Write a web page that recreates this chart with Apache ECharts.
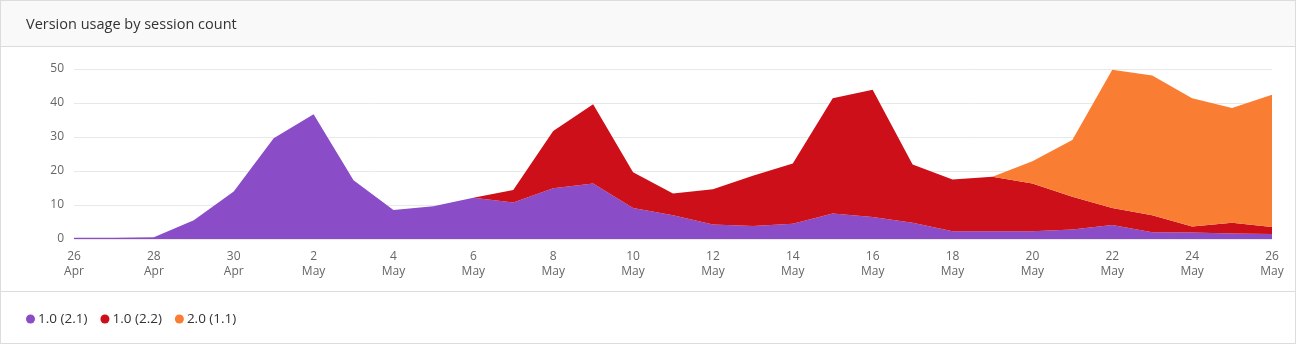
<!DOCTYPE html>
<html>
<head>
<meta charset="utf-8">
<script src="https://cdn.jsdelivr.net/npm/echarts@6/dist/echarts.min.js"></script>
<style>
  html, body { margin: 0; padding: 0; background: #fff; }
  #frame { position: absolute; left: 0; top: 0; width: 1296px; height: 344px; box-sizing: border-box; border: 1px solid #dcdcdc; }
  #head { position: absolute; left: 0; top: 0; width: 1294px; height: 45px; background: #f9f9f9; border-bottom: 1px solid #dcdcdc; }
  #foot { position: absolute; left: 0; top: 290px; width: 1294px; height: 1px; background: #dcdcdc; }
  #chart { position: absolute; left: 0; top: 0; width: 1297px; height: 344px; }
</style>
</head>
<body>
<div id="frame"><div id="head"></div><div id="foot"></div></div>
<div id="chart"></div>
<script>
const title = "Version usage by session count";
const categories = ["26 Apr","27 Apr","28 Apr","29 Apr","30 Apr","1 May","2 May","3 May","4 May","5 May","6 May","7 May","8 May","9 May","10 May","11 May","12 May","13 May","14 May","15 May","16 May","17 May","18 May","19 May","20 May","21 May","22 May","23 May","24 May","25 May","26 May"];
const seriesNames = ["1.0 (2.1)", "1.0 (2.2)", "2.0 (1.1)"];
const seriesColors = ["#8a4cc7", "#cc0f18", "#f97d32"];
const v21 = [0.4, 0.4, 0.5, 5.5, 14.0, 29.6, 36.7, 17.3, 8.5, 9.6, 12.1, 10.7, 14.9, 16.3, 9.1, 7.0, 4.3, 3.8, 4.5, 7.5, 6.5, 4.8, 2.3, 2.3, 2.3, 2.8, 4.1, 2.0, 1.9, 1.6, 1.5];
const v22 = [null, null, null, null, null, null, null, null, null, null, 0, 3.7, 16.9, 23.3, 10.5, 6.4, 10.3, 14.8, 17.7, 33.9, 37.4, 17.1, 15.2, 16.0, 14.0, 9.6, 5.0, 5.0, 1.8, 3.2, 2.0];
const v11 = [null, null, null, null, null, null, null, null, null, null, null, null, null, null, null, null, null, null, null, null, null, null, null, 0, 6.6, 16.7, 40.7, 41.1, 37.7, 33.7, 38.9];
const yTicks = [0, 10, 20, 30, 40, 50];
const values = [v21, v22, v11];

const chart = echarts.init(document.getElementById('chart'), null, { renderer: 'canvas' });
const font = '"Open Sans", "Noto Sans", sans-serif';
chart.setOption({
  animation: false,
  textStyle: { fontFamily: font },
  title: {
    text: title, left: 21, top: 12,
    textStyle: { fontSize: 14.5, fontWeight: 'normal', color: '#333', fontFamily: font }
  },
  legend: {
    data: seriesNames, left: 21, top: 307, icon: 'circle',
    itemWidth: 9, itemHeight: 9, itemGap: 13,
    textStyle: { fontSize: 13.5, color: '#333', fontFamily: font, padding: [0, 0, 0, -2] }
  },
  grid: { left: 74, right: 25, top: 69, bottom: 105 },
  xAxis: {
    type: 'category', data: categories, boundaryGap: false,
    axisLine: { show: false }, axisTick: { show: false },
    axisLabel: {
      interval: 1, color: '#666', fontSize: 12, lineHeight: 15, margin: 10, fontFamily: font,
      formatter: v => v.replace(' ', '\n')
    },
    splitLine: { show: false }
  },
  yAxis: {
    type: 'value', min: yTicks[0], max: yTicks[yTicks.length - 1], interval: 10,
    axisLine: { show: false }, axisTick: { show: false },
    axisLabel: { color: '#666', fontSize: 12, margin: 10, fontFamily: font },
    splitLine: { lineStyle: { color: '#e8e8e8', width: 1 } }
  },
  series: seriesNames.map((n, i) => ({
    name: n, type: 'line', stack: 'total', data: values[i],
    color: seriesColors[i], symbol: 'none', showSymbol: false,
    lineStyle: { width: 0 }, areaStyle: { color: seriesColors[i], opacity: 1 },
    emphasis: { disabled: true }
  }))
});
</script>
</body>
</html>
